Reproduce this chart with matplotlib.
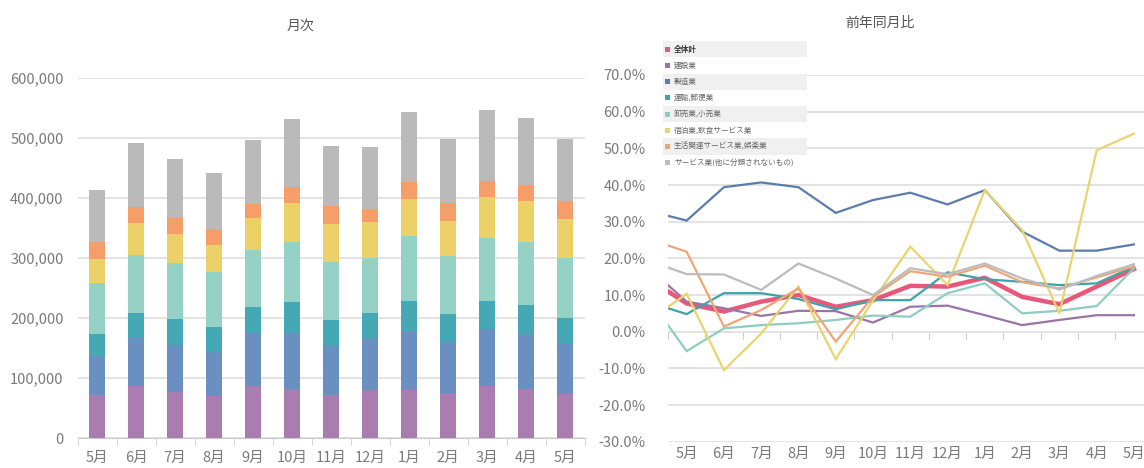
import numpy as np
import matplotlib
matplotlib.use("Agg")
import matplotlib.pyplot as plt
from matplotlib.patches import Rectangle
from matplotlib.ticker import FuncFormatter

plt.rcParams['font.family'] = ['Noto Sans CJK JP', 'DejaVu Sans']

months = ['5月', '6月', '7月', '8月', '9月', '10月', '11月', '12月', '1月', '2月', '3月', '4月', '5月']

# 月次 (stacked bars, bottom -> top), values in units
construction = [71000, 86000, 76000, 70000, 86000, 81000, 71000, 80000, 80000, 75000, 86000, 82000, 73000]
manufacturing = [66000, 80000, 79000, 73000, 89000, 94000, 82000, 86000, 96000, 85000, 96000, 91000, 83000]
transport = [36000, 43000, 43000, 42000, 44000, 51000, 43000, 42000, 52000, 46000, 47000, 49000, 44000]
wholesale = [86000, 96000, 93000, 91000, 95000, 101000, 97000, 92000, 108000, 98000, 105000, 104000, 100000]
lodging = [40000, 54000, 49000, 46000, 52000, 64000, 63000, 60000, 62000, 57000, 68000, 69000, 65000]
living = [28000, 26000, 26000, 26000, 24000, 28000, 30000, 22000, 29000, 30000, 26000, 26000, 30000]
services = [87000, 107000, 99000, 94000, 106000, 112000, 100000, 103000, 116000, 108000, 119000, 112000, 104000]

# 前年同月比 (%), first value is the previous April (partly cut off at the left edge)
yoy_total = [14.3, 7.7, 5.5, 8.2, 10.0, 6.8, 8.6, 12.5, 12.3, 14.7, 9.5, 7.5, 12.3, 17.1]
yoy_construction = [17.2, 8.2, 6.4, 4.3, 5.7, 5.6, 2.5, 6.8, 7.1, 4.5, 1.8, 3.2, 4.5, 4.5]
yoy_manufacturing = [32.9, 30.3, 39.4, 40.7, 39.4, 32.4, 35.9, 37.9, 34.7, 38.6, 27.3, 22.1, 22.1, 23.8]
yoy_transport = [8.0, 4.8, 10.5, 10.5, 8.9, 6.1, 8.6, 8.6, 16.2, 14.3, 13.6, 12.7, 13.2, 17.7]
yoy_wholesale = [8.9, -5.3, 0.9, 1.8, 2.3, 3.2, 4.4, 4.1, 10.5, 13.2, 5.0, 5.7, 7.0, 17.3]
yoy_lodging = [3.3, 10.3, -10.5, -0.5, 12.3, -7.5, 8.5, 23.2, 12.7, 38.6, 27.7, 5.0, 49.5, 54.0]
yoy_living = [25.2, 21.8, 1.4, 5.9, 11.8, -2.7, 9.5, 16.5, 15.0, 18.0, 13.5, 11.8, 14.8, 17.8]
yoy_services = [19.3, 15.7, 15.6, 11.4, 18.6, 14.5, 10.0, 17.3, 15.7, 18.6, 14.5, 11.5, 15.2, 18.4]

legend_labels = ['全体計', '建設業', '製造業', '運輸,郵便業', '卸売業,小売業',
                 '宿泊業,飲食サービス業', '生活関連サービス業,娯楽業', 'サービス業(他に分類されないもの)']

bar_colors = ['#aa7db0', '#6a8fc1', '#44a9b4', '#95d1c4', '#ecd068', '#f59e6a', '#bababa']
line_colors = ['#e8587a', '#9a74a6', '#5b7cad', '#3fa3aa', '#8fcdbf', '#ebd36e', '#f0a578', '#bcbcbc']

W, H = 1144, 468
fig = plt.figure(figsize=(W / 100, H / 100), dpi=100)


def box(x0, y0, x1, y1):
    # pixel box (top-left origin) -> figure fraction rect
    return [x0 / W, 1 - y1 / H, (x1 - x0) / W, (y1 - y0) / H]


grid_c = '#dedede'
tick_c = '#7a7a7a'

# ---------- left: 月次 ----------
ax1 = fig.add_axes(box(77.5, 78, 584.5, 438))
x = np.arange(len(months))
bottom = np.zeros(len(months))
for vals, c in zip([construction, manufacturing, transport, wholesale, lodging, living, services], bar_colors):
    ax1.bar(x, vals, width=0.4, bottom=bottom, color=c, zorder=3)
    bottom += np.array(vals)

ax1.set_xlim(-0.5, len(months) - 0.5)
ax1.set_ylim(0, 600000)
ax1.set_yticks(np.arange(0, 600001, 100000))
ax1.yaxis.set_major_formatter(FuncFormatter(lambda v, p: f'{int(v):,}'))
ax1.grid(axis='y', color=grid_c, linewidth=1.2, zorder=0)
ax1.set_xticks(x)
ax1.set_xticklabels(months)
ax1.set_xticks(np.arange(-0.5, len(months)), minor=True)
ax1.tick_params(axis='x', which='major', length=0, pad=9, labelsize=10.5, labelcolor=tick_c)
ax1.tick_params(axis='x', which='minor', length=5, color='#cccccc')
ax1.tick_params(axis='y', length=0, pad=10, labelsize=10.5, labelcolor=tick_c)
for s in ['top', 'right', 'left']:
    ax1.spines[s].set_visible(False)
ax1.spines['bottom'].set_color('#cccccc')
fig.text(300 / W, 1 - 26 / H, '月次', ha='center', va='center', fontsize=10, color='#555555')

# ---------- right: 前年同月比 ----------
ax2 = fig.add_axes(box(668, 75, 1144, 441.7))
xl = np.arange(-1, len(months))
series = [yoy_total, yoy_construction, yoy_manufacturing, yoy_transport,
          yoy_wholesale, yoy_lodging, yoy_living, yoy_services]
for i, (vals, c) in enumerate(zip(series, line_colors)):
    ax2.plot(xl, vals, color=c, linewidth=3.2 if i == 0 else 1.6, zorder=3, solid_joinstyle='miter')

ax2.set_xlim(-0.5, 12.27)
ax2.set_ylim(-30, 70)
ax2.set_yticks(np.arange(-30, 71, 10))
ax2.yaxis.set_major_formatter(FuncFormatter(lambda v, p: f'{v:.1f}%'))
ax2.grid(axis='y', color=grid_c, linewidth=1.2, zorder=0)
ax2.set_xticks(np.arange(len(months)))
ax2.set_xticklabels(months)
ax2.tick_params(axis='x', length=0, pad=4, labelsize=10.5, labelcolor=tick_c)
ax2.tick_params(axis='y', length=0, pad=16, labelsize=10.5, labelcolor=tick_c)
for s in ax2.spines.values():
    s.set_visible(False)
# category ticks on the 0% line
sec = ax2.secondary_xaxis(0.3)
sec.set_xticks(np.arange(-0.5, len(months)))
sec.set_xticklabels([])
sec.tick_params(length=5, color='#cccccc')
sec.spines['bottom'].set_visible(False)
fig.text(880 / W, 1 - 23 / H, '前年同月比', ha='center', va='center', fontsize=10, color='#555555')

# legend (rows with alternating background)
fig.add_artist(Rectangle(box(663, 41, 807, 171)[:2], *box(663, 41, 807, 171)[2:],
                         transform=fig.transFigure, facecolor='white', edgecolor='none', zorder=5))
row_h = 16.2
for i, (lab, c) in enumerate(zip(legend_labels, line_colors)):
    yc = 49.3 + i * row_h
    if i % 2 == 0:
        r = box(663, yc - row_h / 2, 807, yc + row_h / 2)
        fig.add_artist(Rectangle(r[:2], r[2], r[3], transform=fig.transFigure,
                                 facecolor='#f0f0f0', edgecolor='none', zorder=6))
    m = box(665, yc - 2.5, 670, yc + 2.5)
    fig.add_artist(Rectangle(m[:2], m[2], m[3], transform=fig.transFigure,
                             facecolor=c, edgecolor='none', zorder=7))
    fig.text(674 / W, 1 - yc / H, lab, ha='left', va='center', fontsize=5.5,
             color='#333333' if i == 0 else '#666666', fontweight='bold' if i == 0 else 'normal', zorder=8)

fig.savefig('out.png', dpi=100)
